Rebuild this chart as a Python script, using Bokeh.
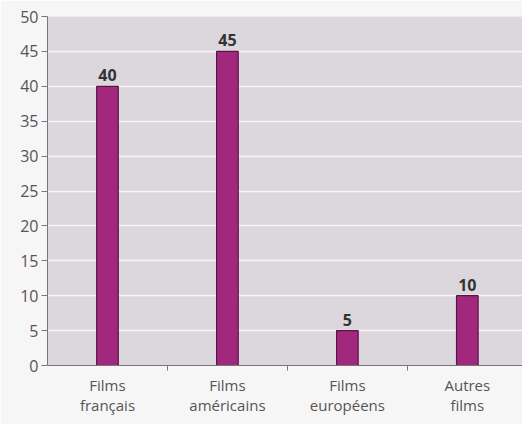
from bokeh.plotting import figure
from bokeh.models import ColumnDataSource, FixedTicker, Range1d, LabelSet
from bokeh.core.properties import value
from bokeh.embed import file_html
from bokeh.resources import INLINE

categories = ["Films\nfrançais", "Films\naméricains", "Films\neuropéens", "Autres\nfilms"]
values = [40, 45, 5, 10]
y_ticks = [0, 5, 10, 15, 20, 25, 30, 35, 40, 45, 50]

xs = list(range(len(categories)))
src = ColumnDataSource(dict(x=xs, top=values, lab=[str(v) for v in values]))

p = figure(width=522, height=424, output_backend="svg", toolbar_location=None,
           x_range=Range1d(-0.5, 3.46), y_range=Range1d(0, 50))
p.min_border_left = 47
p.min_border_right = 0
p.min_border_top = 16
p.min_border_bottom = 59
p.border_fill_color = "#f7f6f7"
p.outline_line_color = None
p.background_fill_color = "#dcd7dc"

p.vbar(x="x", top="top", width=0.18, source=src, fill_color="#a2287e",
       line_color="#5a1444", line_width=1.2)

labels = LabelSet(x="x", y="top", text="lab", source=src, text_align="center",
                  text_baseline="bottom", y_offset=5, text_font=value("Open Sans"),
                  text_font_style="bold", text_font_size="16px", text_color="#333333")
p.add_layout(labels)

p.xgrid.grid_line_color = None
p.ygrid.ticker = FixedTicker(ticks=y_ticks)
p.ygrid.grid_line_color = "#f6f4f6"
p.ygrid.grid_line_width = 1.5

p.yaxis.ticker = FixedTicker(ticks=y_ticks)
p.yaxis.major_label_text_font = "Open Sans"
p.yaxis.major_label_text_font_size = "16px"
p.yaxis.major_label_text_color = "#555555"
p.yaxis.axis_line_color = "#777777"
p.yaxis.major_tick_line_color = "#777777"
p.yaxis.major_tick_out = 6
p.yaxis.major_tick_in = 0
p.yaxis.minor_tick_line_color = None
p.yaxis.major_label_standoff = 3

p.xaxis.ticker = FixedTicker(ticks=xs, minor_ticks=[0.5, 1.5, 2.5])
p.xaxis.major_label_overrides = {i: c for i, c in enumerate(categories)}
p.xaxis.major_label_text_font = "Open Sans"
p.xaxis.major_label_text_font_size = "15px"
p.xaxis.major_label_text_color = "#555555"
p.xaxis.major_label_text_line_height = 1.0
p.xaxis.axis_line_color = "#777777"
p.xaxis.major_tick_line_color = None
p.xaxis.minor_tick_line_color = "#777777"
p.xaxis.minor_tick_out = 5
p.xaxis.minor_tick_in = 0
p.xaxis.major_label_standoff = 3

open("out.html", "w").write(file_html(p, INLINE))
